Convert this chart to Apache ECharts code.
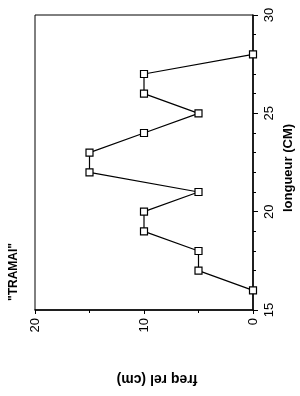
<!DOCTYPE html>
<html>
<head>
<meta charset="utf-8">
<script src="https://cdn.jsdelivr.net/npm/echarts@6/dist/echarts.min.js"></script>
<style>
  html, body { margin: 0; padding: 0; background: #fff; }
  #chart { width: 300px; height: 396px; }
</style>
</head>
<body>
<div id="chart"></div>
<script>
// longueur (cm) vs freq rel, chart drawn rotated a quarter turn
const longueur = [16, 17, 18, 19, 20, 21, 22, 23, 24, 25, 26, 27, 28]
const freqRel = [0, 5, 5, 10, 10, 5, 15, 15, 10, 5, 10, 10, 0]
const title = '"TRAMAI"'
const xName = 'freq rel (cm)'
const yName = 'longueur (CM)'

const chart = echarts.init(document.getElementById('chart'))
const font = 'Liberation Sans, Arial, sans-serif'

chart.setOption({
  animation: false,
  grid: { left: 35, right: 47, top: 15, bottom: 86, show: true, borderColor: '#000', borderWidth: 1 },
  xAxis: {
    type: 'value', min: 0, max: 20, interval: 10, inverse: true, position: 'bottom',
    axisLine: { lineStyle: { color: '#000', width: 1.5 } },
    axisTick: { length: 4, lineStyle: { color: '#000' } },
    minorTick: { show: true, splitNumber: 2, length: 3, lineStyle: { color: '#000' } },
    splitLine: { show: false },
    axisLabel: { rotate: 90, margin: 8, fontFamily: font, fontSize: 13, color: '#000' }
  },
  yAxis: {
    type: 'value', min: 15, max: 30, interval: 5, position: 'right',
    axisLine: { show: true, lineStyle: { color: '#000', width: 1.5 } },
    axisTick: { show: true, length: 5, lineStyle: { color: '#000' } },
    minorTick: { show: true, splitNumber: 5, length: 3, lineStyle: { color: '#000' } },
    splitLine: { show: false },
    axisLabel: { rotate: 90, margin: 10, fontFamily: font, fontSize: 13, color: '#000' }
  },
  graphic: [{
    type: 'text', x: 14, y: 272, rotation: Math.PI / 2,
    style: { text: title, fontFamily: font, fontWeight: 'bold', fontSize: 12, fill: '#000', align: 'center', verticalAlign: 'middle' }
  }, {
    type: 'text', x: 288, y: 168, rotation: Math.PI / 2,
    style: { text: yName, fontFamily: font, fontWeight: 'bold', fontSize: 13, fill: '#000', align: 'center', verticalAlign: 'middle' }
  }, {
    type: 'text', x: 157, y: 379, rotation: Math.PI,
    style: { text: xName, fontFamily: font, fontWeight: 'bold', fontSize: 14, fill: '#000', align: 'center', verticalAlign: 'middle' }
  }],
  series: [{
    type: 'line',
    data: longueur.map((l, i) => [freqRel[i], l]),
    symbol: 'rect', symbolSize: 7,
    itemStyle: { color: '#fff', borderColor: '#000', borderWidth: 1.2 },
    lineStyle: { color: '#000', width: 1.2 }
  }]
})
</script>
</body>
</html>
